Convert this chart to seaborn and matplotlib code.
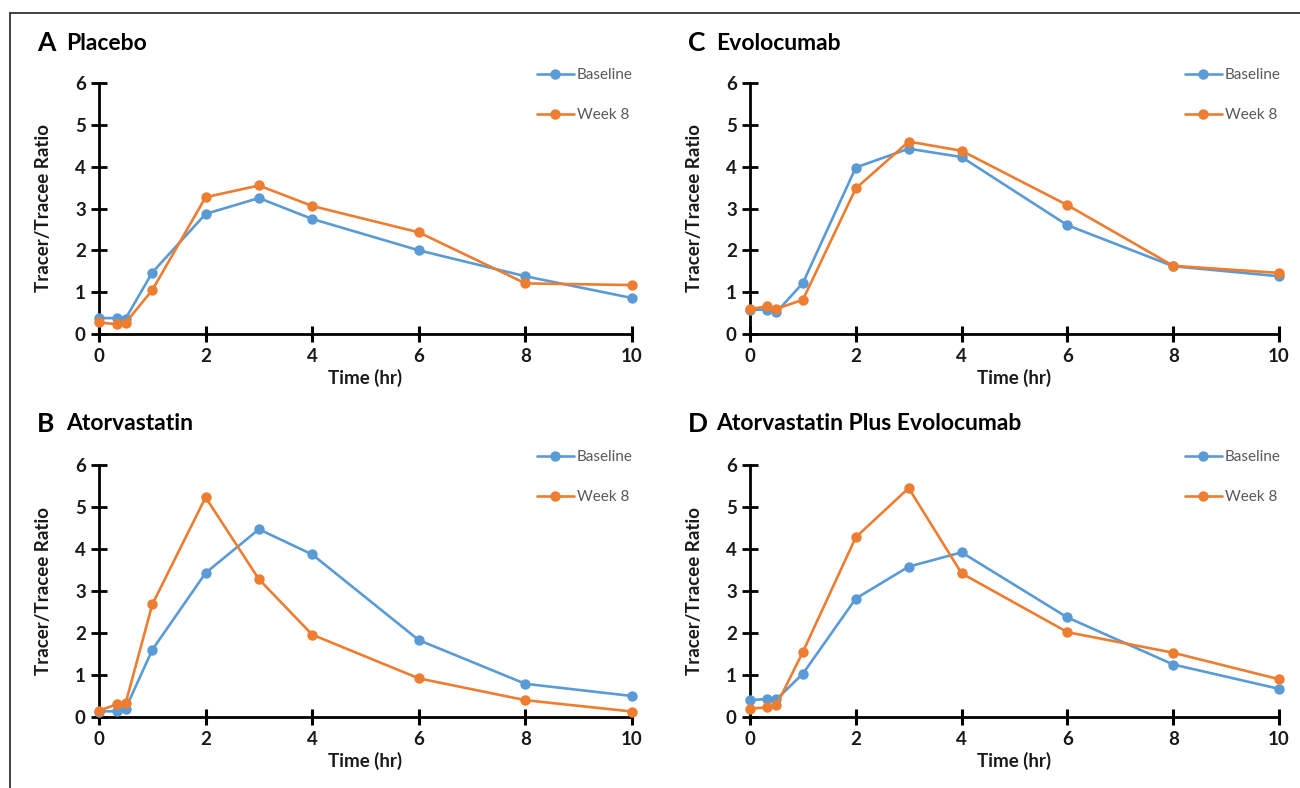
import numpy as np
import pandas as pd
import matplotlib
matplotlib.use("Agg")
import matplotlib.pyplot as plt
from matplotlib.lines import Line2D
import seaborn as sns

# Sampling times (hr)
time_hr = [0, 0.33, 0.5, 1, 2, 3, 4, 6, 8, 10]

# Tracer/tracee ratios per treatment arm
placebo_baseline = [0.38, 0.38, 0.37, 1.47, 2.87, 3.25, 2.75, 2.00, 1.38, 0.86]
placebo_week8 = [0.28, 0.23, 0.27, 1.05, 3.27, 3.55, 3.06, 2.43, 1.21, 1.17]

atorva_baseline = [0.13, 0.14, 0.20, 1.60, 3.43, 4.47, 3.87, 1.83, 0.79, 0.50]
atorva_week8 = [0.15, 0.30, 0.33, 2.68, 5.23, 3.28, 1.96, 0.92, 0.40, 0.13]

evolo_baseline = [0.58, 0.58, 0.52, 1.22, 3.98, 4.43, 4.23, 2.60, 1.62, 1.38]
evolo_week8 = [0.60, 0.66, 0.60, 0.82, 3.48, 4.60, 4.38, 3.08, 1.63, 1.46]

combo_baseline = [0.40, 0.43, 0.42, 1.03, 2.82, 3.58, 3.92, 2.37, 1.25, 0.67]
combo_week8 = [0.20, 0.23, 0.28, 1.55, 4.28, 5.45, 3.42, 2.02, 1.53, 0.90]

panel_letters = ["A", "B", "C", "D"]
panel_titles = ["Placebo", "Atorvastatin", "Evolocumab", "Atorvastatin Plus Evolocumab"]
series_labels = ["Baseline", "Week 8"]
x_ticks = [0, 2, 4, 6, 8, 10]
y_ticks = [0, 1, 2, 3, 4, 5, 6]

panel_data = [
    (placebo_baseline, placebo_week8),
    (atorva_baseline, atorva_week8),
    (evolo_baseline, evolo_week8),
    (combo_baseline, combo_week8),
]

sns.set_theme(style="white", rc={
    "xtick.bottom": True, "ytick.left": True,
    "xtick.direction": "inout", "ytick.direction": "inout",
    "xtick.color": "black", "ytick.color": "black",
    "axes.axisbelow": False,
})
plt.rcParams["font.family"] = ["Lato", "DejaVu Sans"]

palette = {"Baseline": "#5B9BD5", "Week 8": "#ED7D31"}

fig = plt.figure(figsize=(13, 7.88), dpi=100)

W, H = 1300.0, 788.0
# axes boxes in pixel coordinates: (x0, x1, y_top, y_bottom)
boxes = [
    (99, 632, 83, 334),     # A
    (99, 632, 465, 717),    # B
    (750, 1279, 83, 334),   # C
    (750, 1279, 465, 717),  # D
]
title_pos = [(37, 66, 43), (37, 66, 424), (688, 716, 43), (688, 716, 424)]

for i, (base, wk8) in enumerate(panel_data):
    x0, x1, yt, yb = boxes[i]
    ax = fig.add_axes([x0 / W, 1 - yb / H, (x1 - x0) / W, (yb - yt) / H])
    df = pd.DataFrame({
        "Time (hr)": time_hr * 2,
        "Ratio": base + wk8,
        "Visit": [series_labels[0]] * len(time_hr) + [series_labels[1]] * len(time_hr),
    })
    sns.lineplot(data=df, x="Time (hr)", y="Ratio", hue="Visit", palette=palette,
                 marker="o", markersize=7.5, markeredgewidth=0, linewidth=1.9,
                 errorbar=None, ax=ax, clip_on=False, zorder=3)

    ax.set_xlim(0, 10)
    ax.set_ylim(0, 6)
    ax.set_xticks(x_ticks)
    ax.set_yticks(y_ticks)
    for side in ["top", "right"]:
        ax.spines[side].set_visible(False)
    for side in ["left", "bottom"]:
        ax.spines[side].set_color("black")
        ax.spines[side].set_linewidth(2.0)
    ax.tick_params(axis="x", which="major", bottom=True, labelbottom=True,
                   direction="inout", length=12, width=2.2,
                   color="black", labelsize=13.5, labelcolor="#1a1a1a", pad=4)
    ax.tick_params(axis="y", which="major", left=True, labelleft=True,
                   direction="inout", length=11, width=2.0,
                   color="black", labelsize=13.5, labelcolor="#1a1a1a", pad=4)
    for t in ax.xaxis.get_major_ticks() + ax.yaxis.get_major_ticks():
        t.tick1line.set_visible(True)
        t.tick1line.set_color("black")
    for lab in ax.get_xticklabels() + ax.get_yticklabels():
        lab.set_fontweight("bold")

    ax.set_xlabel("Time (hr)", fontsize=13.5, fontweight="bold", color="#1a1a1a")
    ax.set_ylabel("Tracer/Tracee Ratio", fontsize=13.5, fontweight="bold", color="#1a1a1a")
    ax.xaxis.set_label_coords(0.5, -0.14)
    ax.yaxis.set_label_coords(-0.089, 0.5)

    ax.legend(title=None, frameon=False, loc="upper left",
              bbox_to_anchor=(0.822, 1.06),
              borderaxespad=0, borderpad=0, handlelength=2.4, handletextpad=0.2,
              labelspacing=1.7, prop={"size": 11}, labelcolor="#595959")

    lx, tx, ty = title_pos[i]
    fig.text(lx / W, 1 - ty / H, panel_letters[i], fontsize=19, fontweight="bold",
             va="center", ha="left", color="black")
    fig.text(tx / W, 1 - ty / H, panel_titles[i], fontsize=16.5, fontweight="bold",
             va="center", ha="left", color="black")

# outer frame: top and left rules
fig.add_artist(Line2D([10 / W, 1.0], [1 - 13 / H, 1 - 13 / H], color="#222222",
                      linewidth=1.2, transform=fig.transFigure))
fig.add_artist(Line2D([10 / W, 10 / W], [0.0, 1 - 13 / H], color="#222222",
                      linewidth=1.2, transform=fig.transFigure))

fig.savefig("out.png", dpi=100)
